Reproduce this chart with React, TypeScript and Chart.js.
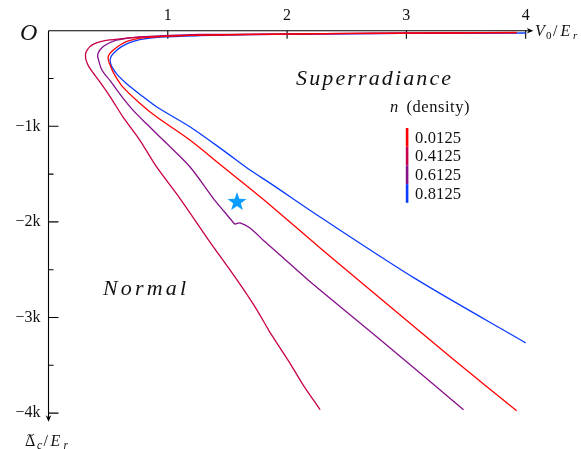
import React, { useEffect, useRef } from 'react';
import { Chart, registerables } from 'chart.js';

Chart.register(...registerables);

// Legend labels (density n) and line colours
const densityLabels = ['0.0125', '0.4125', '0.6125', '0.8125'];
const lineColors = ['#ff0000', '#c8004b', '#86108a', '#0a3cff'];

// n = 0.0125 : V0/Er and Δc/Er
const v0125 = [3.924, 3.37, 2.529, 1.689, 1.269, 0.933, 0.765, 0.664, 0.597, 0.546, 0.513, 0.5, 0.504, 0.517, 0.538, 0.571, 0.622, 0.765, 0.905, 1.185, 1.462, 1.787, 2.277, 2.597, 3.37, 3.924];
const d0125 = [-19, -22, -28, -39, -47, -63, -78, -110, -152, -199, -240, -277, -319, -361, -423, -496, -587, -758, -901, -1144, -1423, -1750, -2273, -2607, -3412, -3976];

// n = 0.4125
const v4125 = [3.924, 3.37, 2.529, 1.689, 1.269, 0.992, 0.765, 0.622, 0.496, 0.429, 0.378, 0.345, 0.324, 0.311, 0.311, 0.315, 0.336, 0.37, 0.429, 0.513, 0.624, 0.765, 0.905, 1.101, 1.336, 1.58, 1.731, 1.842, 1.848, 2.02, 2.026, 2.134, 2.277];
const d4125 = [-21, -24, -30, -42, -47, -58, -68, -82, -99, -117, -141, -169, -204, -240, -277, -308, -371, -434, -533, -684, -901, -1144, -1423, -1753, -2179, -2607, -2889, -3125, -3140, -3470, -3482, -3704, -3965];

// n = 0.6125
const v6125 = [3.924, 3.37, 2.529, 1.689, 1.269, 0.765, 0.639, 0.571, 0.504, 0.462, 0.433, 0.416, 0.412, 0.42, 0.441, 0.471, 0.513, 0.605, 0.708, 0.832, 0.961, 1.185, 1.381, 1.462, 1.546, 1.563, 1.605, 1.689, 1.798, 1.941, 2.176, 2.824, 3.479];
const d6125 = [-21, -24, -29, -37, -40, -65, -84, -99, -131, -162, -199, -235, -266, -308, -392, -455, -517, -674, -831, -987, -1144, -1423, -1753, -1876, -2001, -2022, -2011, -2064, -2189, -2346, -2607, -3276, -3965];

// n = 0.8125
const v8125 = [4.0, 3.37, 2.529, 1.689, 1.269, 0.933, 0.765, 0.681, 0.613, 0.563, 0.529, 0.517, 0.521, 0.538, 0.58, 0.653, 0.765, 0.905, 1.185, 1.462, 1.689, 1.857, 2.277, 3.092, 4.0];
const d8125 = [-24, -26, -32, -42, -52, -68, -94, -125, -167, -214, -261, -303, -345, -392, -465, -552, -664, -796, -1005, -1249, -1458, -1594, -1949, -2607, -3265];

// Star marker
const starV = [1.58];
const starD = [-1782];

// Tick values / labels
const xTickValues = [1, 2, 3, 4];
const yTickValues = [-500, -1000, -1500, -2000, -2500, -3000, -3500, -4000];
const yMajorTicks = [-1000, -2000, -3000, -4000];

const SERIF = '"Liberation Serif", "DejaVu Serif", serif';
const INK = '#111';

function makeStar(color: string, outer: number, inner: number): HTMLCanvasElement {
  const size = Math.ceil(outer * 2 + 2);
  const c = document.createElement('canvas');
  c.width = size;
  c.height = size;
  const g = c.getContext('2d')!;
  g.beginPath();
  for (let k = 0; k < 10; k++) {
    const r = k % 2 === 0 ? outer : inner;
    const a = -Math.PI / 2 + (k * Math.PI) / 5;
    const px = size / 2 + r * Math.cos(a);
    const py = size / 2 + 1 + r * Math.sin(a);
    if (k === 0) g.moveTo(px, py);
    else g.lineTo(px, py);
  }
  g.closePath();
  g.fillStyle = color;
  g.fill();
  return c;
}

function fitText(ctx: CanvasRenderingContext2D, text: string, x: number, y: number, width: number) {
  (ctx as any).letterSpacing = '0px';
  const w = ctx.measureText(text).width;
  const sp = (width - w) / Math.max(1, text.length - 1);
  (ctx as any).letterSpacing = sp + 'px';
  ctx.fillText(text, x, y);
  (ctx as any).letterSpacing = '0px';
}

const decorPlugin = {
  id: 'decor',
  beforeDatasetsDraw(chart: any) {
    const { ctx, chartArea: ca } = chart;
    const xs = chart.scales.x;
    const ys = chart.scales.y;
    const ox = xs.getPixelForValue(0);
    const oy = ys.getPixelForValue(0);
    ctx.save();
    ctx.strokeStyle = '#000';
    ctx.fillStyle = '#000';
    ctx.lineWidth = 1.1;
    ctx.beginPath();
    ctx.moveTo(ox, oy);
    ctx.lineTo(ca.right - 2, oy);
    ctx.stroke();
    ctx.beginPath();
    ctx.moveTo(ox, oy);
    ctx.lineTo(ox, ca.bottom - 2);
    ctx.stroke();
    // arrow heads
    ctx.beginPath();
    ctx.moveTo(ca.right, oy);
    ctx.lineTo(ca.right - 6.5, oy - 2.8);
    ctx.lineTo(ca.right - 4.5, oy);
    ctx.lineTo(ca.right - 6.5, oy + 2.8);
    ctx.closePath();
    ctx.fill();
    ctx.beginPath();
    ctx.moveTo(ox, ca.bottom);
    ctx.lineTo(ox - 2.8, ca.bottom - 6.5);
    ctx.lineTo(ox, ca.bottom - 4.5);
    ctx.lineTo(ox + 2.8, ca.bottom - 6.5);
    ctx.closePath();
    ctx.fill();
    // tick marks
    ctx.beginPath();
    xs.ticks.forEach((t: any) => {
      if (t.value <= 0) return;
      const px = xs.getPixelForValue(t.value);
      ctx.moveTo(px, oy);
      ctx.lineTo(px, oy + 8);
    });
    ys.ticks.forEach((t: any) => {
      if (t.value >= 0) return;
      const py = ys.getPixelForValue(t.value);
      const len = yMajorTicks.includes(t.value) ? 10 : 5;
      ctx.moveTo(ox, py);
      ctx.lineTo(ox + len, py);
    });
    ctx.stroke();
    ctx.restore();
  },
  afterDraw(chart: any) {
    const { ctx } = chart;
    const xs = chart.scales.x;
    const ys = chart.scales.y;
    ctx.save();
    ctx.fillStyle = INK;
    ctx.textAlign = 'left';
    ctx.textBaseline = 'alphabetic';

    // origin symbol
    ctx.font = `italic 24px ${SERIF}`;
    ctx.fillText('O', 20, 39.5);

    // x axis label  V0/Er
    ctx.font = `italic 16px ${SERIF}`;
    ctx.fillText('V', 535, 36);
    ctx.font = `11px ${SERIF}`;
    ctx.fillText('0', 546, 39);
    ctx.font = `16px ${SERIF}`;
    ctx.fillText('/', 553, 36);
    ctx.font = `italic 16px ${SERIF}`;
    ctx.fillText('E', 560.5, 36);
    ctx.font = `italic 11px ${SERIF}`;
    ctx.fillText('r', 573, 39);

    // y axis label  Δ̃c/Er
    ctx.font = `16px ${SERIF}`;
    ctx.fillText('\u0394', 25, 446);
    ctx.strokeStyle = INK;
    ctx.lineWidth = 0.9;
    ctx.beginPath();
    ctx.moveTo(27.5, 435.5);
    ctx.bezierCurveTo(29.5, 432.8, 31.5, 437.2, 34, 434);
    ctx.stroke();
    ctx.font = `italic 11.5px ${SERIF}`;
    ctx.fillText('c', 37, 448.5);
    ctx.font = `16px ${SERIF}`;
    ctx.fillText('/', 43.5, 446);
    ctx.font = `italic 16px ${SERIF}`;
    ctx.fillText('E', 50.5, 446);
    ctx.font = `italic 11.5px ${SERIF}`;
    ctx.fillText('r', 63.5, 448.5);

    // region annotations (placed in data coordinates)
    ctx.font = `italic 22px ${SERIF}`;
    fitText(ctx, 'Superradiance', xs.getPixelForValue(2.075), ys.getPixelForValue(-568), 155);
    fitText(ctx, 'Normal', xs.getPixelForValue(0.457), ys.getPixelForValue(-2765), 83);

    // legend
    ctx.font = `italic 16.5px ${SERIF}`;
    ctx.fillText('n', 390, 112);
    ctx.font = `16.5px ${SERIF}`;
    fitText(ctx, '(density)', 406.5, 112, 63);
    const segTop = 128;
    const segH = 18.7;
    chart.data.datasets.slice(0, densityLabels.length).forEach((ds: any, i: number) => {
      ctx.fillStyle = ds.borderColor;
      ctx.fillRect(405.8, segTop + i * segH, 2.6, segH);
      ctx.fillStyle = INK;
      ctx.font = `16.5px ${SERIF}`;
      fitText(ctx, ds.label, 415, segTop + i * segH + segH / 2 + 5.3, 46);
    });
    ctx.restore();
  },
};

export default function App() {
  const ref = useRef<HTMLCanvasElement>(null);
  useEffect(() => {
    document.body.style.margin = '0';
    const canvas = ref.current!;
    const seriesV = [v0125, v4125, v6125, v8125];
    const seriesD = [d0125, d4125, d6125, d8125];
    const datasets: any[] = seriesV.map((vs, i) => ({
      label: densityLabels[i],
      data: vs.map((v, j) => ({ x: v, y: seriesD[i][j] })),
      borderColor: lineColors[i],
      backgroundColor: lineColors[i],
      borderWidth: 1.3,
      showLine: true,
      pointRadius: 0,
      tension: 0.3,
    }));
    datasets.push({
      label: 'star',
      data: starV.map((v, j) => ({ x: v, y: starD[j] })),
      showLine: false,
      pointStyle: makeStar('#0a9cff', 10, 4),
      pointRadius: 10,
      order: -1,
    });
    const chart = new Chart(canvas, {
      type: 'scatter',
      data: { datasets },
      options: {
        animation: false,
        responsive: true,
        maintainAspectRatio: false,
        events: [],
        layout: { padding: { left: 0, top: 0, right: 47.7, bottom: 27.3 } },
        plugins: { legend: { display: false }, tooltip: { enabled: false } },
        scales: {
          x: {
            type: 'linear',
            position: 'top',
            min: 0,
            max: 4.064,
            grid: { display: false, drawTicks: false },
            border: { display: false },
            afterBuildTicks: (s: any) => {
              s.ticks = xTickValues.map((v) => ({ value: v }));
            },
            ticks: {
              autoSkip: false,
              maxRotation: 0,
              padding: 5,
              color: INK,
              font: { family: SERIF, size: 16 },
              callback: (v: any) => String(v),
            },
            afterFit: (s: any) => {
              s.height = 30.7;
            },
          },
          y: {
            type: 'linear',
            position: 'left',
            min: -4090,
            max: 0,
            grid: { display: false, drawTicks: false },
            border: { display: false },
            afterBuildTicks: (s: any) => {
              s.ticks = yTickValues.map((v) => ({ value: v }));
            },
            ticks: {
              autoSkip: false,
              padding: 8,
              color: INK,
              font: { family: SERIF, size: 16 },
              callback: (v: any) => (yMajorTicks.includes(v) ? '\u2212' + Math.abs(v) / 1000 + 'k' : ''),
            },
            afterFit: (s: any) => {
              s.width = 48.5;
            },
          },
        },
      } as any,
      plugins: [decorPlugin],
    });
    return () => chart.destroy();
  }, []);
  return (
    <div style={{ position: 'relative', width: 581, height: 449 }}>
      <canvas ref={ref} />
    </div>
  );
}
